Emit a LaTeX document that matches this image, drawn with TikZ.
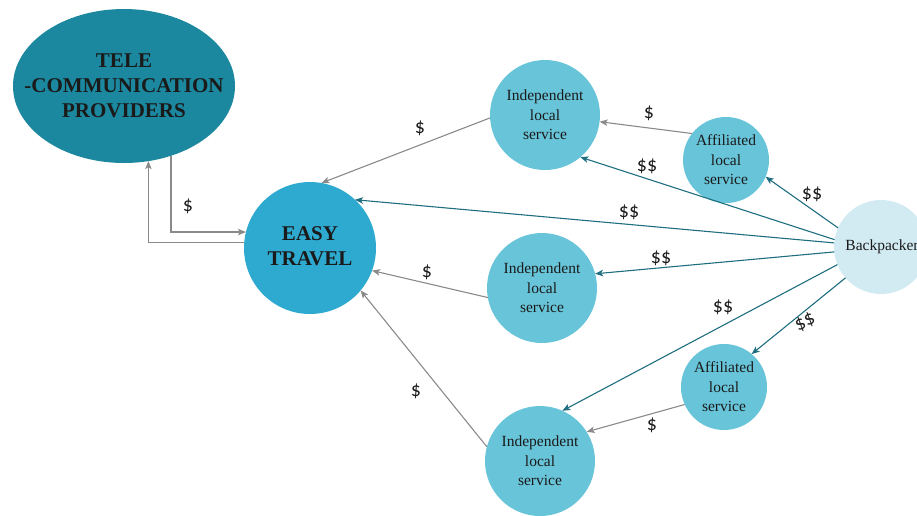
\documentclass[tikz,border=0pt]{standalone}
\usepackage{fontspec}
\setmainfont{Liberation Serif}
\newfontfamily\payfont{Carlito}
\usetikzlibrary{arrows.meta,shapes.geometric}
\definecolor{teledark}{HTML}{1B889F}
\definecolor{easyblue}{HTML}{2EAAD0}
\definecolor{localblue}{HTML}{68C4D9}
\definecolor{backlight}{HTML}{D2EBF3}
\definecolor{payteal}{HTML}{1E6E80}
\definecolor{paygray}{HTML}{8A8A8A}
\definecolor{inkblack}{HTML}{1A1A1A}

\begin{document}
\begin{tikzpicture}[x=1pt,y=-1pt,
  every node/.style={inner sep=0pt, outer sep=0pt, text=inkblack},
  localsvc/.style={circle, fill=localblue, minimum size=#1, align=center,
    font=\fontsize{15.5}{19.5}\selectfont},
  bigtext/.style={align=center, font=\bfseries\fontsize{21}{25}\selectfont},
  flowgray/.style={draw=paygray, line width=1.1pt, -{Stealth[length=8pt,width=6.5pt,inset=2pt]}},
  flowteal/.style={draw=payteal, line width=1.1pt, -{Stealth[length=8pt,width=6.5pt,inset=2pt]}},
  paylabel/.style={font=\payfont\fontsize{20}{22}\selectfont}
]
\useasboundingbox (0,0) rectangle (917,515);

% actors
\node[ellipse, fill=teledark, minimum width=222pt, minimum height=154pt] (tele) at (124,86) {};
\node[bigtext] (teletxt) at (124,86) {TELE\\-COMMUNICATION\\PROVIDERS};
\node[circle, fill=easyblue, minimum size=132pt] (easy) at (310,248) {};
\node[bigtext] (easytxt) at (310,246) {EASY\\TRAVEL};
\node[localsvc=110pt] (ind1) at (545,115) {Independent\\local\\service};
\node[localsvc=110pt] (ind2) at (542,288) {Independent\\local\\service};
\node[localsvc=110pt] (ind3) at (540,461) {Independent\\local\\service};
\node[localsvc=86pt] (aff1) at (726,160) {Affiliated\\local\\service};
\node[localsvc=86pt] (aff2) at (724,387) {Affiliated\\local\\service};
\node[circle, fill=backlight, minimum size=94pt] (back) at (881,247) {};
\node[font=\fontsize{15.5}{19.5}\selectfont] (backtxt) at (882,247) {Backpacker};

% payments between Easy Travel and the providers
\draw[flowgray] (tele.-56) |- (easy.166);
\draw[flowgray] (easy.175) -| (tele.-72);

% payments from local services
\draw[flowgray] (ind1.183) -- (easy.80);
\draw[flowgray] (aff1.142) -- (ind1.-7);
\draw[flowgray] (ind2.190) -- (easy.-20);
\draw[flowgray] (aff2.204) -- (ind3.32);
\draw[flowgray] (ind3.165) -- (easy.-40);

% payments from the backpacker
\draw[flowteal] (back.171) -- (ind1.-50);
\draw[flowteal] (back.156) -- (aff1.-23);
\draw[flowteal] (back.175) -- (easy.47);
\draw[flowteal] (back.186) -- (ind2.15);
\draw[flowteal] (back.202) -- (ind3.66);
\draw[flowteal] (back.221) -- (aff2.50);

% amounts
\node[paylabel] (p0) at (188,206) {\$};
\node[paylabel] (p1) at (420,128) {\$};
\node[paylabel] (p2) at (649,113) {\$};
\node[paylabel] (p3) at (647,166) {\$\$};
\node[paylabel] (p4) at (812,194) {\$\$};
\node[paylabel] (p5) at (629,212) {\$\$};
\node[paylabel] (p6) at (661,258) {\$\$};
\node[paylabel] (p7) at (427,272) {\$};
\node[paylabel] (p8) at (723,307) {\$\$};
\node[paylabel, rotate=25] (p9) at (805,322) {\$\$};
\node[paylabel] (p10) at (652,425) {\$};
\node[paylabel] (p11) at (416,391) {\$};
\end{tikzpicture}
\end{document}
